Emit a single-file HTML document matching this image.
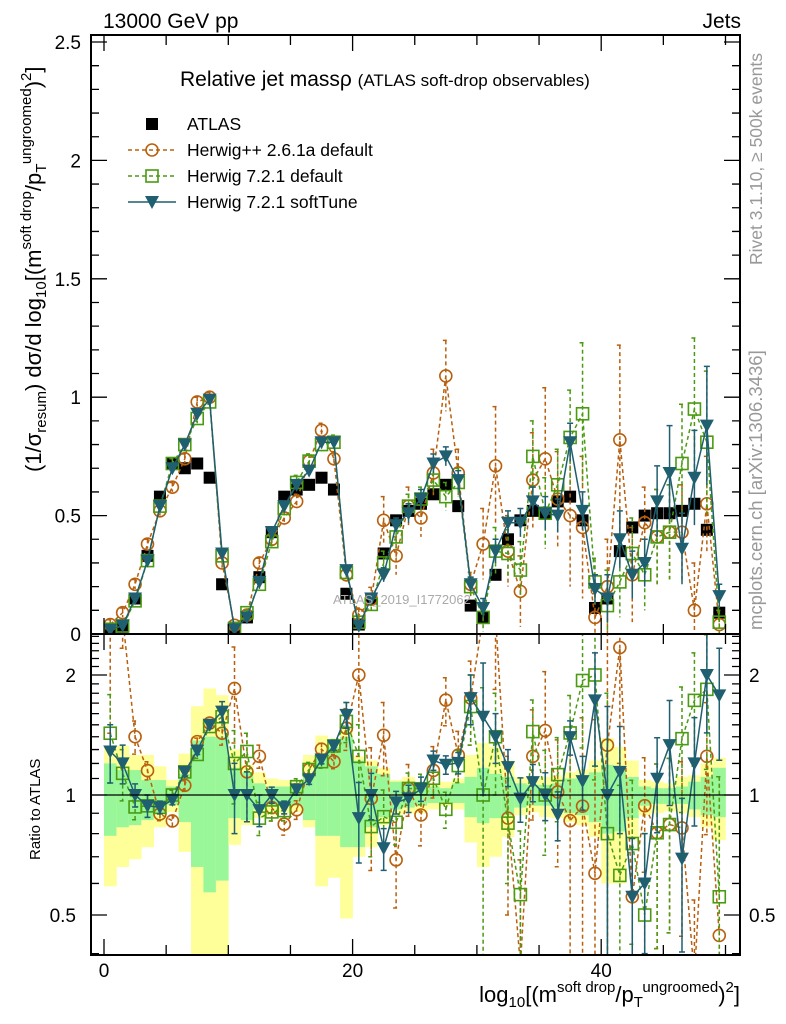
<!DOCTYPE html>
<html><head><meta charset="utf-8"><style>
html,body{margin:0;padding:0;background:#fff;overflow:hidden;width:786px;height:1024px;}
svg{display:block;font-family:"Liberation Sans",sans-serif;overflow:hidden;}
</style></head><body>
<svg id="chart" width="786" height="1024" viewBox="0 0 786 1024" xmlns="http://www.w3.org/2000/svg">
<defs>
<clipPath id="clipMain"><rect x="91" y="35" width="649" height="599"/></clipPath>
<clipPath id="clipRatio"><rect x="91" y="634" width="649" height="321"/></clipPath>
</defs>
<text x="103" y="28" font-size="21">13000 GeV pp</text>
<text x="741" y="28" font-size="21" text-anchor="end">Jets</text>
<g id="bands" clip-path="url(#clipRatio)"></g>
<g id="mainMarks" clip-path="url(#clipMain)"></g>
<g id="ratioMarks" clip-path="url(#clipRatio)"></g>
<text x="333" y="604" font-size="13" fill="#aaa">ATLAS_2019_I1772062</text>
<line x1="91" y1="795" x2="740" y2="795" stroke="#000" stroke-width="1.2"/>
<g id="axes"></g>
<rect x="91" y="35" width="649" height="599" fill="none" stroke="#000" stroke-width="2"/>
<rect x="91" y="634" width="649" height="321" fill="none" stroke="#000" stroke-width="2"/>
<g id="legend">
<text x="180" y="86" font-size="21">Relative jet massρ <tspan font-size="17">(ATLAS soft-drop observables)</tspan></text>
</g>
<text transform="translate(762,265) rotate(-90)" font-size="17.5" fill="#999">Rivet 3.1.10, ≥ 500k events</text>
<text transform="translate(762,630) rotate(-90)" font-size="18.5" fill="#999">mcplots.cern.ch [arXiv:1306.3436]</text>
<text transform="translate(41,472) rotate(-90)" font-size="22">(1/σ<tspan font-size="15" dy="5">resum</tspan><tspan dy="-5">) dσ/d log</tspan><tspan font-size="15" dy="5">10</tspan><tspan dy="-5">[(m</tspan><tspan font-size="15" dy="-10">soft drop</tspan><tspan dy="10">/p</tspan><tspan font-size="15" dy="5">T</tspan><tspan font-size="15" dy="-15">ungroomed</tspan><tspan dy="10">)</tspan><tspan font-size="15" dy="-10">2</tspan><tspan dy="10">]</tspan></text>
<text transform="translate(40,860) rotate(-90)" font-size="15">Ratio to ATLAS</text>
<text x="740" y="1002" font-size="22" text-anchor="end">log<tspan font-size="15" dy="5">10</tspan><tspan dy="-5">[(m</tspan><tspan font-size="15" dy="-10">soft drop</tspan><tspan dy="10">/p</tspan><tspan font-size="15" dy="5">T</tspan><tspan font-size="15" dy="-15">ungroomed</tspan><tspan dy="10">)</tspan><tspan font-size="15" dy="-10">2</tspan><tspan dy="10">]</tspan></text>
</svg>
<script>
const atlas = [0.014,0.03,0.15,0.33,0.58,0.72,0.70,0.72,0.66,0.21, 0.02,0.07,0.24,0.43,0.58,0.61,0.63,0.66,0.61,0.17, 0.04,0.15,0.34,0.48,0.52,0.55,0.59,0.63,0.54,0.12, 0.07,0.25,0.40,0.48,0.52,0.51,0.56,0.58,0.48,0.11, 0.15,0.35,0.45,0.50,0.51,0.51,0.52,0.55,0.44,0.09];
const hpp = [0.04,0.09,0.21,0.38,0.52,0.62,0.74,0.98,1.00,0.30, 0.037,0.08,0.30,0.40,0.49,0.56,0.73,0.86,0.74,0.25, 0.08,0.147,0.48,0.33,0.54,0.49,0.68,1.09,0.68,0.21, 0.38,0.71,0.35,0.18,0.65,0.74,0.57,0.50,0.45,0.07, 0.20,0.82,0.25,0.47,0.41,0.43,0.43,0.10,0.55,0.04];
const hppErr = [0.02,0.02,0.02,0.02,0.02,0.02,0.02,0.02,0.02,0.02, 0.01,0.02,0.02,0.03,0.03,0.03,0.03,0.03,0.03,0.03, 0.03,0.05,0.10,0.08,0.08,0.08,0.10,0.15,0.10,0.05, 0.15,0.25,0.15,0.15,0.20,0.30,0.20,0.30,0.30,0.10, 0.20,0.40,0.20,0.15,0.20,0.20,0.20,0.20,0.20,0.06];
const h721 = [0.02,0.034,0.14,0.31,0.54,0.72,0.80,0.91,0.98,0.33, 0.024,0.09,0.21,0.39,0.53,0.64,0.73,0.80,0.81,0.26, 0.05,0.125,0.30,0.41,0.54,0.57,0.65,0.58,0.64,0.20, 0.07,0.35,0.34,0.27,0.75,0.51,0.63,0.83,0.93,0.22, 0.12,0.22,0.34,0.25,0.41,0.43,0.72,0.95,0.81,0.05];
const h721Err = [0.005,0.005,0.01,0.02,0.02,0.02,0.02,0.02,0.02,0.02, 0.005,0.01,0.02,0.02,0.03,0.03,0.03,0.03,0.03,0.03, 0.01,0.02,0.05,0.05,0.05,0.05,0.06,0.06,0.06,0.04, 0.06,0.10,0.10,0.12,0.15,0.15,0.15,0.20,0.30,0.10, 0.15,0.15,0.15,0.15,0.20,0.20,0.25,0.30,0.30,0.05];
const soft = [0.018,0.036,0.15,0.31,0.54,0.70,0.80,0.93,0.99,0.34, 0.02,0.07,0.22,0.43,0.54,0.63,0.69,0.81,0.81,0.27, 0.035,0.15,0.25,0.46,0.51,0.57,0.72,0.75,0.65,0.21, 0.11,0.35,0.47,0.47,0.56,0.51,0.50,0.81,0.52,0.19, 0.15,0.40,0.25,0.30,0.56,0.68,0.36,0.66,0.88,0.16];
const softErr = [0.003,0.004,0.01,0.02,0.02,0.02,0.02,0.02,0.02,0.02, 0.004,0.01,0.02,0.02,0.02,0.02,0.02,0.02,0.02,0.02, 0.008,0.02,0.03,0.03,0.04,0.04,0.04,0.04,0.04,0.03, 0.04,0.05,0.05,0.06,0.06,0.07,0.07,0.08,0.08,0.06, 0.10,0.12,0.10,0.10,0.15,0.20,0.15,0.20,0.25,0.05];
const statUp = [1.20,1.155,1.155,1.09,1.09,1.05,1.13,1.37,1.40,1.40, 1.17,1.14,1.07,1.05,1.05,1.05,1.12,1.26,1.32,1.40, 1.22,1.18,1.13,1.08,1.07,1.05,1.05,1.04,1.07,1.11, 1.17,1.13,1.11,1.07,1.06,1.06,1.07,1.10,1.12,1.14, 1.19,1.17,1.11,1.05,1.04,1.04,1.05,1.08,1.11,1.17];
const statDn = [0.79,0.83,0.84,0.865,0.90,0.945,0.855,0.66,0.57,0.61, 0.875,0.865,0.92,0.94,0.94,0.94,0.865,0.79,0.79,0.74, 0.74,0.83,0.88,0.92,0.93,0.94,0.955,0.96,0.955,0.88, 0.85,0.875,0.89,0.93,0.94,0.94,0.93,0.90,0.89,0.855, 0.80,0.81,0.875,0.94,0.95,0.95,0.95,0.92,0.89,0.88];
const totUp = [1.33,1.33,1.26,1.26,1.18,1.09,1.27,1.67,1.85,1.78, 1.30,1.19,1.14,1.10,1.09,1.09,1.26,1.41,1.37,1.47, 1.25,1.22,1.17,1.09,1.11,1.08,1.06,1.08,1.10,1.26, 1.35,1.32,1.22,1.11,1.09,1.11,1.12,1.14,1.16,1.22, 1.39,1.32,1.22,1.09,1.08,1.07,1.11,1.12,1.20,1.24];
const totDn = [0.59,0.66,0.69,0.74,0.83,0.905,0.72,0.30,0.30,0.30, 0.75,0.84,0.875,0.89,0.90,0.905,0.83,0.59,0.62,0.49, 0.70,0.74,0.84,0.89,0.90,0.90,0.92,0.94,0.92,0.76, 0.66,0.70,0.785,0.89,0.905,0.88,0.875,0.855,0.84,0.785, 0.60,0.60,0.77,0.89,0.90,0.91,0.90,0.88,0.83,0.77];
const xTicks = [0,20,40];
const yTicks = [0,0.5,1,1.5,2,2.5];
const yTickLabels = ["0","0.5","1","1.5","2","2.5"];
const rTicks = [0.5,1,2];
const rTickLabels = ["0.5","1","2"];

const NS = "http://www.w3.org/2000/svg";
function xs(v){ return 104 + 12.43*v; }
function ys(v){ return 634 - 236.8*v; }
function yr(r){ const c=Math.min(Math.max(r,0.35),2.8); return 795 - 398.7*Math.log10(c); }
function mk(tag, attrs, parent){
  const e = document.createElementNS(NS, tag);
  for (const k in attrs) e.setAttribute(k, attrs[k]);
  parent.appendChild(e); return e;
}
const bands = document.getElementById('bands');
const mainG = document.getElementById('mainMarks');
const ratioG = document.getElementById('ratioMarks');
const axes = document.getElementById('axes');
const legend = document.getElementById('legend');

for (let i=0;i<atlas.length;i++){
  const x0 = xs(i), w = xs(i+1)-xs(i);
  const y = mk('rect',{x:x0,y:yr(totUp[i]),width:w+0.3,height:yr(totDn[i])-yr(totUp[i]),fill:'#ffff99'},bands);
  
  
  const g = mk('rect',{x:x0,y:yr(statUp[i]),width:w+0.3,height:yr(statDn[i])-yr(statUp[i]),fill:'#99f799'},bands);
  
  
}

function marker(kind,color,cx,cy,parent){
  let e;
  if (kind==='circle') e = mk('circle',{cx:cx,cy:cy,r:6,fill:'none',stroke:color,'stroke-width':1.6},parent);
  else if (kind==='osq') e = mk('rect',{x:cx-6,y:cy-6,width:12,height:12,fill:'none',stroke:color,'stroke-width':1.6},parent);
  else if (kind==='tri') e = mk('polygon',{points:`${cx-7},${cy-6} ${cx+7},${cy-6} ${cx},${cy+7}`,fill:color},parent);
  else e = mk('rect',{x:cx-6,y:cy-6,width:12,height:12,fill:color},parent);
  return e;
}

const series = [
  {name:'herwigpp-261a', vals:hpp, err:hppErr, color:'#b8600e', kind:'circle', dash:'4,3'},
  {name:'herwig-721-default', vals:h721, err:h721Err, color:'#4a9a12', kind:'osq', dash:'4,3'},
  {name:'herwig-721-softtune', vals:soft, err:softErr, color:'#1f5f70', kind:'tri', dash:''}
];

for (let i=0;i<atlas.length;i++){
  const m = marker('fsq','#000',xs(i+0.5),ys(atlas[i]),mainG);
  
  
}

for (const s of series){
  let dMain='', dRat='';
  for (let i=0;i<s.vals.length;i++){
    const cx = xs(i+0.5);
    dMain += (i?'L':'M')+cx+','+ys(s.vals[i]);
    dRat += (i?'L':'M')+cx+','+yr(s.vals[i]/atlas[i]);
  }
  const pl = mk('path',{d:dMain,fill:'none',stroke:s.color,'stroke-width':1.5,'stroke-dasharray':s.dash},mainG);
  
  
  const rl = mk('path',{d:dRat,fill:'none',stroke:s.color,'stroke-width':1.5,'stroke-dasharray':s.dash},ratioG);
  
  
  for (let i=0;i<s.vals.length;i++){
    const cx = xs(i+0.5), v=s.vals[i], e=s.err[i];
    const eb = mk('path',{d:`M${cx},${ys(v+e)}L${cx},${ys(Math.max(v-e,0))}M${cx-3},${ys(v+e)}L${cx+3},${ys(v+e)}`,stroke:s.color,'stroke-width':1.5,'stroke-dasharray':s.dash,fill:'none'},mainG);
    
    
    const m = marker(s.kind,s.color,cx,ys(v),mainG);
    
    
    const r=v/atlas[i], re=e/atlas[i], lo=Math.max(r-re,0.01);
    const rb = mk('path',{d:`M${cx},${yr(r+re)}L${cx},${yr(lo)}M${cx-3},${yr(r+re)}L${cx+3},${yr(r+re)}M${cx-3},${yr(lo)}L${cx+3},${yr(lo)}`,stroke:s.color,'stroke-width':1.5,'stroke-dasharray':s.dash,fill:'none'},ratioG);
    
    
    const rm = marker(s.kind,s.color,cx,yr(r),ratioG);
    
    
  }
}

let tp='';
for (let v=0; v<=2.5001; v+=0.1){
  const y=ys(v), big=Math.abs(v*2-Math.round(v*2))<1e-6, L=big?16:8;
  tp+=`M91,${y}L${91+L},${y}M740,${y}L${740-L},${y}`;
}
for (let r=0.4; r<=2.5001; r+=0.1){
  const y=yr(r), big=rTicks.some(t=>Math.abs(t-r)<1e-6), L=big?16:8;
  tp+=`M91,${y}L${91+L},${y}M740,${y}L${740-L},${y}`;
}
for (let v=0; v<=50; v+=5){
  const x=xs(v), big=xTicks.includes(v), L=big?16:10;
  tp+=`M${x},634L${x},${634-L}M${x},35L${x},${35+L}M${x},955L${x},${955-L}M${x},634L${x},${634+L}`;
}
const tk = mk('path',{d:tp,stroke:'#000','stroke-width':1.3,fill:'none'},axes);


yTicks.forEach((v,i)=>{
  const t = mk('text',{x:81,y:ys(v)+7,'font-size':19,'text-anchor':'end'},axes);
  t.textContent = yTickLabels[i];
  
  
});
rTicks.forEach((v,i)=>{
  const t = mk('text',{x:76,y:yr(v)+7,'font-size':19,'text-anchor':'end'},axes);
  t.textContent = rTickLabels[i];
  
  
  const t2 = mk('text',{x:749,y:yr(v)+7,'font-size':19},axes);
  t2.textContent = rTickLabels[i];
  
  
});
xTicks.forEach(v=>{
  const t = mk('text',{x:xs(v),y:977,'font-size':19,'text-anchor':'middle'},axes);
  t.textContent = String(v);
  
  
});

const legItems = [
  {label:'ATLAS', kind:'fsq', color:'#000', dash:null},
  {label:'Herwig++ 2.6.1a default', kind:'circle', color:'#b8600e', dash:'4,3'},
  {label:'Herwig 7.2.1 default', kind:'osq', color:'#4a9a12', dash:'4,3'},
  {label:'Herwig 7.2.1 softTune', kind:'tri', color:'#1f5f70', dash:''}
];
legItems.forEach((it,i)=>{
  const y = 124 + 26*i;
  if (it.dash!==null){
    const l = mk('line',{x1:128,y1:y,x2:176,y2:y,stroke:it.color,'stroke-width':1.5,'stroke-dasharray':it.dash},legend);
    
    
  }
  const m = marker(it.kind,it.color,152,y,legend);
  
  
  const t = mk('text',{x:187,y:y+6,'font-size':17.5},legend);
  t.textContent = it.label;
  
  
});
</script>
</body></html>
